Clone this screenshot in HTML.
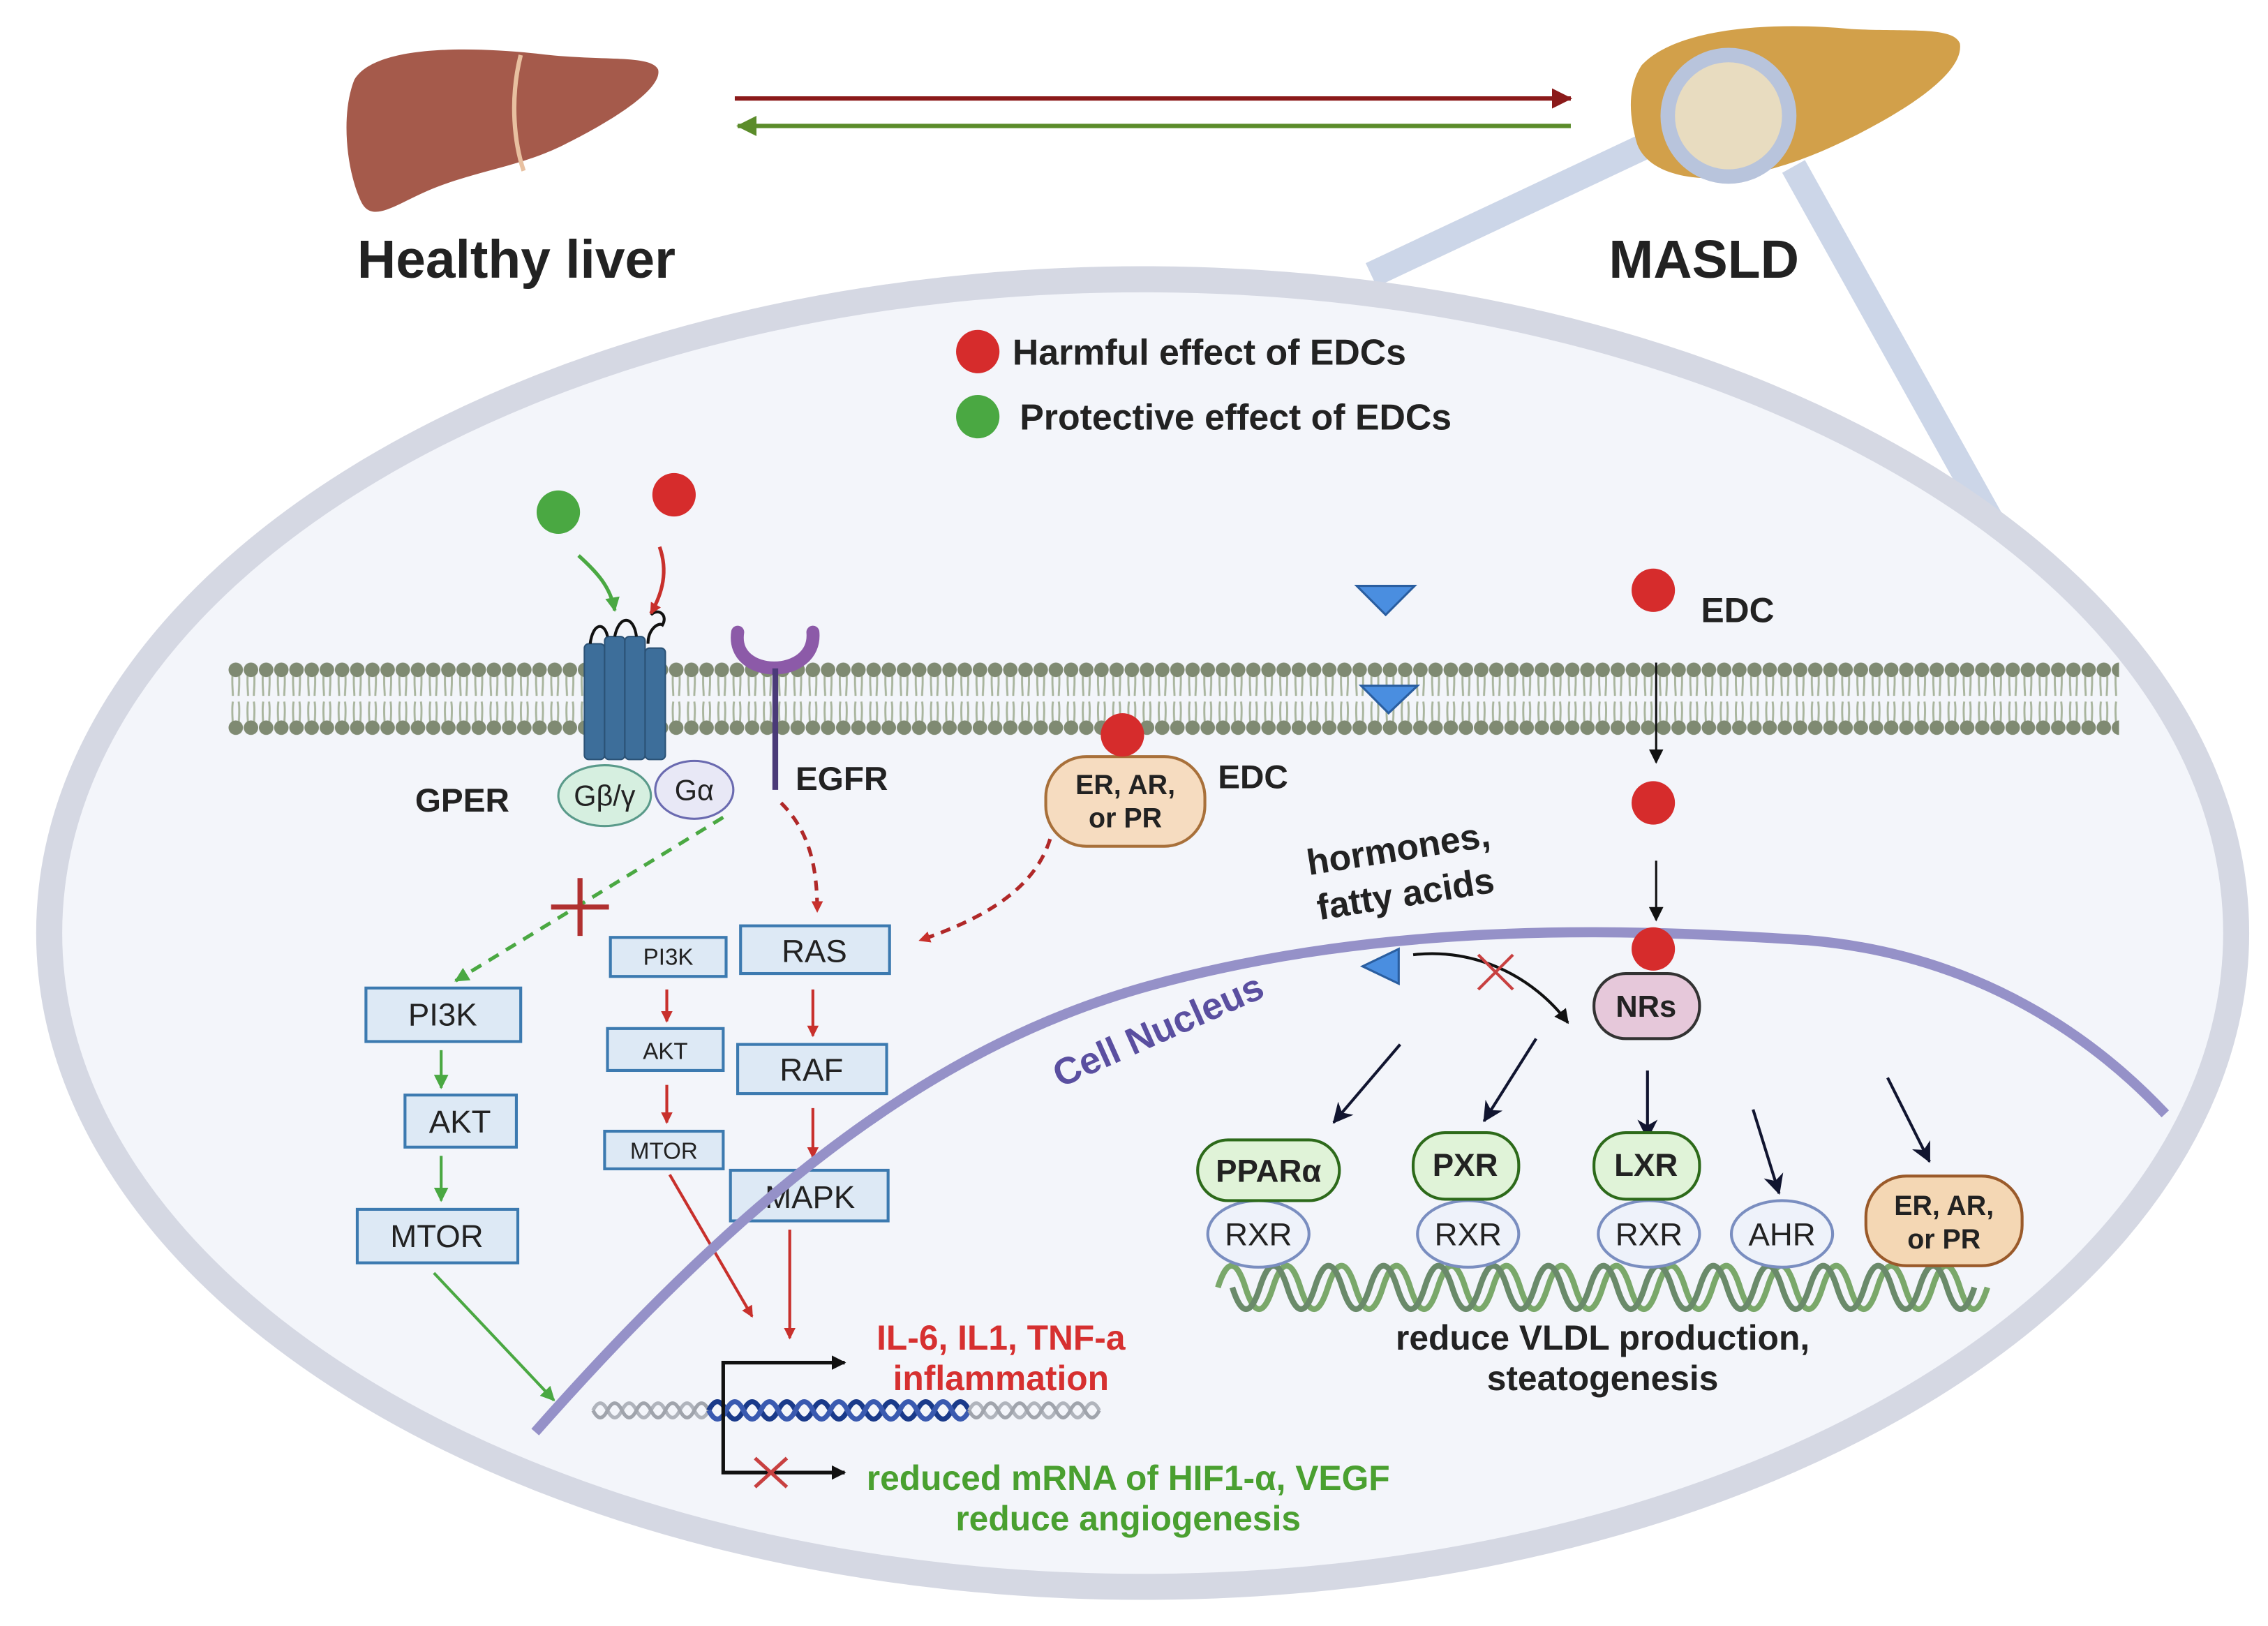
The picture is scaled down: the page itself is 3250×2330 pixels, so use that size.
<!DOCTYPE html>
<html><head><meta charset="utf-8"><style>
html,body{margin:0;padding:0;background:#fff;}
svg{display:block;}
text{font-family:"Liberation Sans",sans-serif;}
</style></head><body>
<svg width="3250" height="2330" viewBox="0 0 1568 1124" xmlns="http://www.w3.org/2000/svg">
<defs>
<marker id="ar" markerWidth="8" markerHeight="8" refX="7" refY="4" orient="auto" markerUnits="userSpaceOnUse"><path d="M0,0 L8,4 L0,8 Z" fill="#c8302c"/></marker>
<marker id="ag" markerWidth="10" markerHeight="10" refX="9" refY="5" orient="auto" markerUnits="userSpaceOnUse"><path d="M0,0 L10,5 L0,10 Z" fill="#4aa842"/></marker>
<marker id="ak" markerWidth="14" markerHeight="14" refX="13" refY="7" orient="auto" markerUnits="userSpaceOnUse"><path d="M0,0 L14,7 L0,14 L4,7 Z" fill="#111530"/></marker>
<marker id="ab" markerWidth="10" markerHeight="10" refX="9" refY="5" orient="auto" markerUnits="userSpaceOnUse"><path d="M0,0 L10,5 L0,10 Z" fill="#111"/></marker>
<marker id="adr" markerWidth="14" markerHeight="14" refX="13" refY="7" orient="auto" markerUnits="userSpaceOnUse"><path d="M0,0 L14,7 L0,14 Z" fill="#8b1a1a"/></marker>
<marker id="adg" markerWidth="14" markerHeight="14" refX="13" refY="7" orient="auto" markerUnits="userSpaceOnUse"><path d="M0,0 L14,7 L0,14 Z" fill="#5b8c2a"/></marker>
<pattern id="mem" x="158" y="455" width="10.5" height="56" patternUnits="userSpaceOnUse">
<path d="M3,8 C2,16 3,22 3,26 M7,8 C8,16 7,22 7,26 M3,30 C2,36 3,42 3,48 M7,30 C8,36 7,42 7,48" stroke="#a9b59e" stroke-width="1.4" fill="none"/>
<circle cx="5" cy="8" r="5" fill="#7f8a72"/><circle cx="5" cy="48" r="5" fill="#7f8a72"/>
</pattern>
</defs>
<rect width="1568" height="1124" fill="#fff"/>
<path d="M1150,95 L948,190" stroke="#ccd6e8" stroke-width="18"/>
<path d="M1240,115 L1385,375" stroke="#ccd6e8" stroke-width="18"/>
<ellipse cx="790" cy="645" rx="756" ry="452" fill="#f3f5fa" stroke="#d5d8e3" stroke-width="18"/>
<path d="M245,55 C260,30 330,32 380,38 C420,42 450,38 455,48 C458,60 430,80 390,100 C360,115 330,118 300,130 C275,140 258,155 250,140 C240,120 235,80 245,55 Z" fill="#a55a4b"/>
<path d="M360,38 C352,70 356,100 362,118" stroke="#e8c0a0" stroke-width="3" fill="none"/>
<path d="M1135,45 C1160,18 1230,15 1280,20 C1320,22 1350,18 1355,30 C1358,50 1320,75 1280,95 C1250,110 1225,118 1200,122 C1170,126 1140,120 1132,100 C1126,80 1125,60 1135,45 Z" fill="#d2a04a"/>
<circle cx="1195" cy="80" r="42" fill="#e8dcc0" stroke="#b8c4dc" stroke-width="10"/>
<line x1="508" y1="68" x2="1086" y2="68" stroke="#8b1a1a" stroke-width="3" marker-end="url(#adr)"/>
<line x1="1086" y1="87" x2="510" y2="87" stroke="#5b8c2a" stroke-width="3" marker-end="url(#adg)"/>
<text x="357" y="192" font-size="37" font-weight="bold" text-anchor="middle" fill="#222">Healthy liver</text>
<text x="1178" y="192" font-size="37" font-weight="bold" text-anchor="middle" fill="#222">MASLD</text>
<circle cx="676" cy="243" r="15" fill="#d62c2c"/>
<text x="700" y="252" font-size="25" font-weight="bold" fill="#222">Harmful effect of EDCs</text>
<circle cx="676" cy="288" r="15" fill="#4aa842"/>
<text x="705" y="297" font-size="25" font-weight="bold" fill="#222">Protective effect of EDCs</text>
<rect x="158" y="455" width="1307" height="56" fill="url(#mem)"/>
<g fill="#3d6e9a" stroke="#2b5276" stroke-width="1">
<rect x="404" y="445" width="14" height="80" rx="3"/><rect x="418" y="440" width="14" height="85" rx="3"/>
<rect x="432" y="440" width="14" height="85" rx="3"/><rect x="446" y="448" width="14" height="77" rx="3"/>
</g>
<path d="M408,445 C410,430 418,430 420,440 M425,440 C428,425 438,425 440,440 M448,445 C448,435 455,430 458,432 C462,425 455,420 450,425" stroke="#111" stroke-width="2" fill="none"/>
<circle cx="386" cy="354" r="15" fill="#4aa842"/>
<circle cx="466" cy="342" r="15" fill="#d62c2c"/>
<path d="M400,384 C412,395 422,405 425,422" stroke="#4aa842" stroke-width="2.5" fill="none" marker-end="url(#ag)"/>
<path d="M456,378 C462,395 458,410 450,424" stroke="#c8302c" stroke-width="2.5" fill="none" marker-end="url(#ar)"/>
<ellipse cx="418" cy="550" rx="32" ry="21" fill="#d6efe0" stroke="#5a9a8a" stroke-width="1.5"/>
<text x="418" y="557" font-size="20" text-anchor="middle" fill="#222">Gβ/γ</text>
<ellipse cx="480" cy="546" rx="27" ry="20" fill="#e8e8f6" stroke="#6a6ab0" stroke-width="1.5"/>
<text x="480" y="553" font-size="20" text-anchor="middle" fill="#222">Gα</text>
<text x="287" y="561" font-size="23" font-weight="bold" fill="#222">GPER</text>
<path d="M510,437 C505,470 565,470 562,437" stroke="#8c5aa8" stroke-width="9" fill="none" stroke-linecap="round"/>
<line x1="536" y1="462" x2="536" y2="546" stroke="#4a3a78" stroke-width="4"/>
<text x="550" y="546" font-size="23" font-weight="bold" fill="#222">EGFR</text>
<path d="M500,565 L315,678" stroke="#4aa842" stroke-width="2.5" stroke-dasharray="8,6" fill="none" marker-end="url(#ag)"/>
<path d="M381,627 L421,627 M401,607 L401,647" stroke="#b03030" stroke-width="3.5"/>
<path d="M540,555 C560,575 565,600 565,630" stroke="#b02828" stroke-width="2.5" stroke-dasharray="7,5" fill="none" marker-end="url(#ar)"/>
<path d="M726,580 C715,615 680,635 636,650" stroke="#b02828" stroke-width="2.5" stroke-dasharray="7,5" fill="none" marker-end="url(#ar)"/>
<g fill="#dde9f5" stroke="#3c7ab0" stroke-width="2">
<rect x="253" y="683" width="107" height="37"/><rect x="280" y="757" width="77" height="36"/><rect x="247" y="836" width="111" height="37"/>
<rect x="422" y="648" width="80" height="27"/><rect x="420" y="711" width="80" height="29"/><rect x="418" y="782" width="82" height="26"/>
<rect x="512" y="640" width="103" height="33"/><rect x="510" y="722" width="103" height="34"/><rect x="505" y="809" width="109" height="35"/>
</g>
<g font-size="22" text-anchor="middle" fill="#222">
<text x="306" y="709">PI3K</text><text x="318" y="783">AKT</text><text x="302" y="862">MTOR</text>
<text x="563" y="665">RAS</text><text x="561" y="747">RAF</text><text x="560" y="835">MAPK</text>
</g>
<g font-size="16" text-anchor="middle" fill="#222">
<text x="462" y="667">PI3K</text><text x="460" y="732">AKT</text><text x="459" y="801">MTOR</text>
</g>
<g stroke="#4aa842" stroke-width="2" marker-end="url(#ag)">
<line x1="305" y1="726" x2="305" y2="752"/><line x1="305" y1="799" x2="305" y2="830"/>
<line x1="300" y1="880" x2="383" y2="968"/>
</g>
<g stroke="#c8302c" stroke-width="2" marker-end="url(#ar)">
<line x1="461" y1="684" x2="461" y2="706"/><line x1="461" y1="750" x2="461" y2="776"/>
<line x1="562" y1="684" x2="562" y2="716"/><line x1="562" y1="766" x2="562" y2="800"/>
<line x1="463" y1="812" x2="520" y2="910"/><line x1="546" y1="850" x2="546" y2="925"/>
</g>
<rect x="723" y="523" width="110" height="62" rx="28" fill="#f6dcc0" stroke="#a8703a" stroke-width="2"/>
<circle cx="776" cy="508" r="15" fill="#d62c2c"/>
<text x="778" y="549" font-size="19" font-weight="bold" text-anchor="middle" fill="#222">ER, AR,</text>
<text x="778" y="572" font-size="19" font-weight="bold" text-anchor="middle" fill="#222">or PR</text>
<text x="842" y="545" font-size="23" font-weight="bold" fill="#222">EDC</text>
<path d="M938,405 L978,405 L958,425 Z" fill="#4a8ee0" stroke="#2a5ea0" stroke-width="1.5"/>
<path d="M941,474 L980,474 L960,493 Z" fill="#4a8ee0" stroke="#2a5ea0" stroke-width="1.5"/>
<circle cx="1143" cy="408" r="15" fill="#d62c2c"/>
<text x="1176" y="430" font-size="24" font-weight="bold" fill="#222">EDC</text>
<line x1="1145" y1="458" x2="1145" y2="527" stroke="#111" stroke-width="1.5" marker-end="url(#ab)"/>
<circle cx="1143" cy="555" r="15" fill="#d62c2c"/>
<line x1="1145" y1="595" x2="1145" y2="636" stroke="#111" stroke-width="1.5" marker-end="url(#ab)"/>
<path d="M370,990 C520,820 650,720 800,680 C950,640 1100,640 1250,650 C1370,660 1450,720 1497,770" stroke="#9591c8" stroke-width="7" fill="none"/>
<text x="0" y="0" font-size="26" font-weight="bold" fill="#5a4fa0" transform="translate(733,752) rotate(-24)">Cell Nucleus</text>
<text x="0" y="0" font-size="25" font-weight="bold" fill="#222" transform="translate(905,605) rotate(-9)">hormones,</text>
<text x="0" y="0" font-size="25" font-weight="bold" fill="#222" transform="translate(912,636) rotate(-9)">fatty acids</text>
<path d="M967,656 L967,680 L942,668 Z" fill="#4a8ee0" stroke="#2a5ea0" stroke-width="1.5"/>
<path d="M977,660 C1020,655 1060,675 1084,707" stroke="#111" stroke-width="2" fill="none" marker-end="url(#ab)"/>
<path d="M1022,660 L1046,684 M1046,660 L1022,684" stroke="#c84040" stroke-width="2"/>
<circle cx="1143" cy="656" r="15" fill="#d62c2c"/>
<rect x="1102" y="673" width="73" height="45" rx="22" fill="#e6c8da" stroke="#333" stroke-width="2"/>
<text x="1138" y="703" font-size="21" font-weight="bold" text-anchor="middle" fill="#222">NRs</text>
<g stroke="#111530" stroke-width="2" marker-end="url(#ak)">
<line x1="968" y1="722" x2="922" y2="776"/><line x1="1062" y1="718" x2="1026" y2="775"/>
<line x1="1139" y1="740" x2="1139" y2="787"/><line x1="1212" y1="767" x2="1230" y2="825"/>
<line x1="1305" y1="745" x2="1334" y2="803"/>
</g>
<!-- DNA green -->
<g stroke-width="4" fill="none">
<path d="M842,890 q9.5,-30 19,0 t19,0 t19,0 t19,0 t19,0 t19,0 t19,0 t19,0 t19,0 t19,0 t19,0 t19,0 t19,0 t19,0 t19,0 t19,0 t19,0 t19,0 t19,0 t19,0 t19,0 t19,0 t19,0 t19,0 t19,0 t19,0 t19,0 t19,0" stroke="#7aa86a"/>
<path d="M852,890 q9.5,30 19,0 t19,0 t19,0 t19,0 t19,0 t19,0 t19,0 t19,0 t19,0 t19,0 t19,0 t19,0 t19,0 t19,0 t19,0 t19,0 t19,0 t19,0 t19,0 t19,0 t19,0 t19,0 t19,0 t19,0 t19,0 t19,0 t19,0" stroke="#6a8a6a"/>
</g>
<g stroke-width="2">
<ellipse cx="870" cy="853" rx="35" ry="23" fill="#eef2fa" stroke="#7a8ec0"/>
<ellipse cx="1015" cy="853" rx="35" ry="23" fill="#eef2fa" stroke="#7a8ec0"/>
<ellipse cx="1140" cy="853" rx="35" ry="23" fill="#eef2fa" stroke="#7a8ec0"/>
<ellipse cx="1232" cy="853" rx="35" ry="23" fill="#eef2fa" stroke="#7a8ec0"/>
<rect x="828" y="788" width="98" height="42" rx="21" fill="#e0f3d8" stroke="#2d6a1a"/>
<rect x="977" y="783" width="73" height="46" rx="22" fill="#e0f3d8" stroke="#2d6a1a"/>
<rect x="1102" y="783" width="73" height="46" rx="22" fill="#e0f3d8" stroke="#2d6a1a"/>
<rect x="1290" y="813" width="108" height="62" rx="28" fill="#f4d7b4" stroke="#9a5a2a"/>
</g>
<g font-size="22" text-anchor="middle" fill="#222">
<text x="870" y="861">RXR</text><text x="1015" y="861">RXR</text><text x="1140" y="861">RXR</text><text x="1232" y="861">AHR</text>
</g>
<g font-size="22" font-weight="bold" text-anchor="middle" fill="#222">
<text x="877" y="817">PPARα</text><text x="1013" y="813">PXR</text><text x="1138" y="813">LXR</text>
</g>
<text x="1344" y="840" font-size="19" font-weight="bold" text-anchor="middle" fill="#222">ER, AR,</text>
<text x="1344" y="863" font-size="19" font-weight="bold" text-anchor="middle" fill="#222">or PR</text>
<text x="1108" y="933" font-size="24" font-weight="bold" text-anchor="middle" fill="#222">reduce VLDL production,</text>
<text x="1108" y="961" font-size="24" font-weight="bold" text-anchor="middle" fill="#222">steatogenesis</text>
<!-- lower DNA -->
<path d="M410,975 q5,-10 10,0 t10,0 t10,0 t10,0 t10,0 t10,0 t10,0 t10,0" stroke="#b0b4bc" stroke-width="2.5" fill="none"/>
<path d="M410,975 q5,10 10,0 t10,0 t10,0 t10,0 t10,0 t10,0 t10,0 t10,0" stroke="#a0a4ac" stroke-width="2.5" fill="none"/>
<path d="M490,975 q6,-12 12,0 t12,0 t12,0 t12,0 t12,0 t12,0 t12,0 t12,0 t12,0 t12,0 t12,0 t12,0 t12,0 t12,0 t12,0" stroke="#1a3a8a" stroke-width="3.5" fill="none"/>
<path d="M490,975 q6,12 12,0 t12,0 t12,0 t12,0 t12,0 t12,0 t12,0 t12,0 t12,0 t12,0 t12,0 t12,0 t12,0 t12,0 t12,0" stroke="#3a5ab0" stroke-width="3.5" fill="none"/>
<path d="M670,975 q5,-10 10,0 t10,0 t10,0 t10,0 t10,0 t10,0 t10,0 t10,0 t10,0" stroke="#b0b4bc" stroke-width="2.5" fill="none"/>
<path d="M670,975 q5,10 10,0 t10,0 t10,0 t10,0 t10,0 t10,0 t10,0 t10,0 t10,0" stroke="#a0a4ac" stroke-width="2.5" fill="none"/>
<path d="M500,975 L500,942 L584,942" stroke="#111" stroke-width="2.5" fill="none" marker-end="url(#ab)"/>
<path d="M500,975 L500,1018 L584,1018" stroke="#111" stroke-width="2.5" fill="none" marker-end="url(#ab)"/>
<path d="M522,1008 L544,1028 M544,1008 L522,1028" stroke="#c84040" stroke-width="2.5"/>
<text x="692" y="933" font-size="24" font-weight="bold" text-anchor="middle" fill="#d63030">IL-6, IL1, TNF-a</text>
<text x="692" y="961" font-size="24" font-weight="bold" text-anchor="middle" fill="#d63030">inflammation</text>
<text x="780" y="1030" font-size="24" font-weight="bold" text-anchor="middle" fill="#4aa030">reduced mRNA of HIF1-α, VEGF</text>
<text x="780" y="1058" font-size="24" font-weight="bold" text-anchor="middle" fill="#4aa030">reduce angiogenesis</text>
</svg>
</body></html>
